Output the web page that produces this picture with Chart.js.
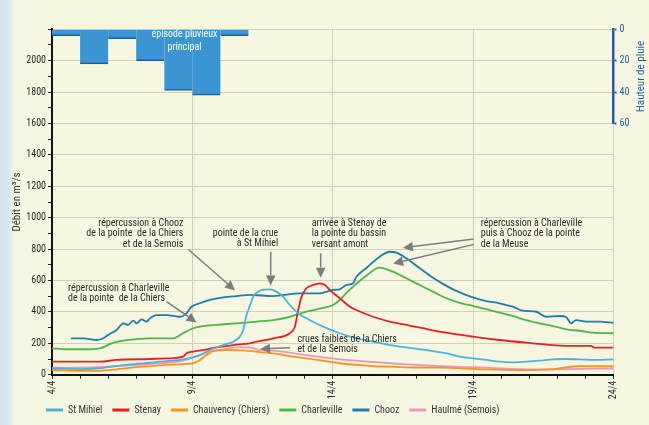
<!DOCTYPE html>
<html><head><meta charset="utf-8">
<script src="https://cdn.jsdelivr.net/npm/chart.js@4.4.1/dist/chart.umd.min.js"></script>
<style>
html,body{margin:0;padding:0;}
body{width:649px;height:425px;overflow:hidden;background:#f6f6e1;}
#wrap{position:relative;width:649px;height:425px;background:linear-gradient(to right,#cfe3ef 0px,#d9e9f1 9px,#e9f1ea 13px,#f6f6e1 16px);}
canvas{display:block;}
</style></head><body><div id="wrap"><canvas id="c" width="649" height="425"></canvas></div>
<script>
// ---------- data (days of April, flow in m3/s, rain in mm) ----------
const xTickDays = [4, 9, 14, 19, 24];

const stMihielDays = [4,5.11,5.71,6.3,6.9,7.49,8.08,8.67,9.27,9.62,10.1,10.45,10.69,10.81,10.93,11.05,11.17,11.4,11.76,11.99,12.23,12.47,12.77,13.06,13.65,14.25,14.84,15.44,16.03,16.62,17.21,17.57,18.05,18.52,18.99,19.47,19.94,20.41,20.89,21.36,21.84,22.32,22.79,23.27,24];
const stMihielFlow = [41,36,41,55,68,76,87,98,125,157,189,210,242,285,380,440,497,535,544,529,497,444,391,359,306,264,232,210,189,174,160,150,136,115,104,94,83,79,83,89,98,100,98,94,98];

const stenayDays = [4,5.71,6.3,7.49,8.08,8.67,8.79,9.03,9.38,9.86,10.45,11.05,11.28,11.88,12.47,12.65,12.77,12.89,13.06,13.3,13.54,13.72,13.9,14.25,14.61,14.84,15.44,16.03,16.62,17.21,17.81,18.99,19.94,20.89,21.84,22.79,23.2,23.33,24];
const stenayFlow = [83,83,94,100,104,115,136,147,157,174,189,200,210,232,264,306,412,497,550,571,582,571,539,487,433,412,369,338,317,296,274,242,221,204,189,183,183,172,172];

const chauvencyDays = [4,5.11,5.71,6.3,6.9,7.49,8.08,8.67,9.03,9.27,9.5,9.74,10.1,10.57,11.28,11.88,12.47,13.06,13.65,14.25,14.84,15.44,16.03,16.62,17.81,19.47,20.65,21.84,22.32,22.79,24];
const chauvencyFlow = [30,24,25,34,47,55,62,68,73,94,125,151,157,157,147,136,119,104,89,73,62,55,51,47,45,34,30,34,47,55,55];

const charlevilleDays = [4,4.52,5.11,5.71,6.12,6.54,7.01,7.49,8.32,8.67,9.03,9.38,9.86,10.57,11.28,11.88,12.47,13.06,13.65,14.01,14.25,14.48,14.72,15.19,15.67,16.14,16.62,17.1,17.57,18.05,18.52,18.99,19.47,19.94,20.41,20.89,21.36,21.84,22.32,22.79,23.27,24];
const charlevilleFlow = [168,162,162,168,200,217,227,232,232,264,296,310,318,327,338,348,369,401,425,444,476,520,560,630,682,656,614,571,529,487,458,438,417,395,374,348,327,310,289,280,268,264];

const choozDays = [4.67,5.11,5.59,5.83,6.0,6.3,6.54,6.72,6.9,7.01,7.19,7.37,7.49,7.72,8.08,8.56,8.79,8.97,9.27,9.62,10.1,10.57,11.05,11.88,12.83,13.54,14.01,14.25,14.48,14.72,14.84,15.19,15.67,16.03,16.27,16.62,17.1,17.57,18.05,18.52,18.99,19.47,19.94,20.41,20.77,21.25,21.6,22.08,22.32,22.49,22.67,23.03,23.5,24];
const choozFlow = [232,232,221,232,253,285,327,317,344,327,353,338,359,380,380,369,391,433,455,476,493,501,508,501,518,518,540,544,571,582,624,678,752,783,777,741,678,618,566,524,493,469,455,433,408,401,369,374,366,327,348,338,338,331];

const haulmeDays = [4,5,6,7,8,8.67,9.27,9.62,10.1,10.57,11.05,11.28,11.88,12.47,13.06,13.65,14.25,14.84,15.44,16.03,16.62,17.81,18.28,19.47,20.65,21.84,24];
const haulmeFlow = [45,45,52,62,75,89,125,147,162,174,174,162,153,140,125,111,98,89,81,73,66,55,51,45,36,34,41];

const rainDays = [4.5,5.5,6.5,7.5,8.5,9.5,10.5];
const rainMm = [4,22,6,20,39,42,4];

// ---------- text annotations (anchored in data units) ----------
const notes = [
  {lines:['répercussion à Chooz','de la pointe  de la Chiers','et de la Semois'], day:8.68, flow:964, align:'right'},
  {lines:['pointe de la crue','à St Mihiel'], day:12.06, flow:900, align:'right'},
  {lines:['arrivée à Stenay de','la pointe du bassin','versant amont'], day:13.25, flow:964, align:'left'},
  {lines:['répercussion à Charleville','puis à Chooz de la pointe','de la Meuse'], day:19.27, flow:964, align:'left'},
  {lines:['répercussion à Charleville','de la pointe  de la Chiers'], day:4.57, flow:552, align:'left'},
  {lines:['crues faibles de la Chiers','et de la Semois'], day:12.74, flow:225, align:'left'}
];
const arrows = [
  {from:[8.85,799], to:[10.52,537]},
  {from:[11.79,783], to:[11.79,568]},
  {from:[13.57,773], to:[13.57,618]},
  {from:[19.03,864], to:[16.5,808]},
  {from:[19.03,830], to:[16.15,708]},
  {from:[8.08,465], to:[9.15,333]},
  {from:[12.48,172], to:[11.41,164]}
];
const rainLabel = {lines:['épisode pluvieux','principal'], day:8.72, mm:[3.6,11.3]};

// ---------- styling ----------
const FONT = "'Roboto Condensed','Liberation Sans',sans-serif";
const TXT = '#2b2b2b';
const GRID = '#cfcfba';
const RAIN_BLUE = '#2360a8';
const ARROW = '#7d7d7d';

function pts(days, vals){ return days.map((d,i)=>({x:d, y:vals[i]})); }
function lineDs(label, days, vals, color){
  return {type:'line', label, data:pts(days, vals), borderColor:color, backgroundColor:color,
    borderWidth:1.8, pointRadius:0, pointHoverRadius:0, cubicInterpolationMode:'monotone',
    fill:false, xAxisID:'x', yAxisID:'y'};
}

const notesPlugin = {
  id:'notes',
  afterLayout(chart){
    const lg = chart.legend; if(!lg) return;
    const p = lg.options.labels.padding;
    const dx = 46 - p - lg.left, dy = (410 - p - 5) - lg.top;
    lg.left += dx; lg.right += dx; lg.top += dy; lg.bottom += dy;
  },
  afterDatasetsDraw(chart){
    const {ctx} = chart; const xs = chart.scales.x, ys = chart.scales.y, rs = chart.scales.y2;
    ctx.save();
    ctx.strokeStyle = ARROW; ctx.fillStyle = ARROW; ctx.lineWidth = 1.5;
    arrows.forEach(a => {
      const x1 = xs.getPixelForValue(a.from[0]), y1 = ys.getPixelForValue(a.from[1]);
      const x2 = xs.getPixelForValue(a.to[0]), y2 = ys.getPixelForValue(a.to[1]);
      const ang = Math.atan2(y2-y1, x2-x1), L = 10, W = 4.8;
      const bx = x2 - L*Math.cos(ang), by = y2 - L*Math.sin(ang);
      ctx.beginPath(); ctx.moveTo(x1,y1); ctx.lineTo(bx,by); ctx.stroke();
      ctx.beginPath(); ctx.moveTo(x2,y2);
      ctx.lineTo(bx - W*Math.sin(ang), by + W*Math.cos(ang));
      ctx.lineTo(bx + W*Math.sin(ang), by - W*Math.cos(ang));
      ctx.closePath(); ctx.fill();
    });
    ctx.font = '10px ' + FONT; ctx.fillStyle = TXT; ctx.textBaseline = 'middle';
    notes.forEach(n => {
      ctx.textAlign = n.align;
      const px = xs.getPixelForValue(n.day), py = ys.getPixelForValue(n.flow);
      n.lines.forEach((t,i) => ctx.fillText(t, px, py + i*10.5));
    });
    ctx.fillStyle = '#ffffff'; ctx.textAlign = 'center';
    rainLabel.lines.forEach((t,i) => ctx.fillText(t, xs.getPixelForValue(rainLabel.day), rs.getPixelForValue(rainLabel.mm[i])));
    ctx.restore();
  },
  afterDraw(chart){
    const s = chart.scales.y2, ctx = chart.ctx;
    ctx.save();
    ctx.translate(s.right - 8, (s.top + s.bottom)/2);
    ctx.rotate(-Math.PI/2);
    ctx.textAlign = 'center'; ctx.textBaseline = 'middle';
    ctx.fillStyle = RAIN_BLUE; ctx.font = '11px ' + FONT;
    ctx.fillText('Hauteur de pluie', 0, 0);
    ctx.restore();
  }
};

new Chart(document.getElementById('c'), {
  data: {
    datasets: [
      lineDs('St Mihiel', stMihielDays, stMihielFlow, '#4cb3dc'),
      lineDs('Stenay', stenayDays, stenayFlow, '#e3231f'),
      lineDs('Chauvency (Chiers)', chauvencyDays, chauvencyFlow, '#f7931e'),
      lineDs('Charleville', charlevilleDays, charlevilleFlow, '#4fb648'),
      lineDs('Chooz', choozDays, choozFlow, '#1c7eac'),
      lineDs('Haulmé (Semois)', haulmeDays, haulmeFlow, '#e898ba'),
      {type:'bar', label:'pluie', data:pts(rainDays, rainMm), xAxisID:'x', yAxisID:'y2',
        backgroundColor:'#3a95d2', borderColor:'#1d5ea3',
        borderWidth:{top:0,right:0,bottom:1.5,left:0}, borderSkipped:false,
        barPercentage:1, categoryPercentage:1, grouped:false}
    ]
  },
  options: {
    responsive:false, devicePixelRatio:1, animation:false,
    layout:{padding:{top:29.3, right:0, bottom:-12, left:0}},
    plugins:{
      tooltip:{enabled:false},
      legend:{
        position:'bottom', align:'start',
        labels:{
          usePointStyle:true, pointStyle:'line', pointStyleWidth:17, padding:10,
          color:'#333', font:{family:FONT, size:10},
          filter: it => it.text !== 'pluie',
          generateLabels: ch => Chart.defaults.plugins.legend.labels.generateLabels(ch).map(l => Object.assign(l, {lineWidth:3}))
        }
      }
    },
    scales:{
      x:{type:'linear', position:'bottom', min:4, max:24, offset:false,
        ticks:{stepSize:1, autoSkip:false, maxRotation:90, minRotation:90, padding:2, color:TXT,
          font:{family:FONT, size:10},
          callback: v => xTickDays.includes(Math.round(v)) ? Math.round(v) + '/4' : ''},
        grid:{offset:false, color: c => (c.tick && xTickDays.includes(Math.round(c.tick.value)) && c.tick.value > 4) ? GRID : 'rgba(0,0,0,0)',
          tickColor:'#222', tickLength:4, lineWidth:1},
        border:{color:'#111', width:2},
        afterFit: s => { s.height = 425 + 12 - 374.7 - (s.chart.legend ? s.chart.legend.height : 0); }
      },
      y:{type:'linear', position:'left', min:0, max:2200,
        ticks:{stepSize:100, autoSkip:false, padding:2, color:TXT, font:{family:FONT, size:10},
          callback: v => (v % 200 === 0 && v < 2200) ? String(v) : ''},
        grid:{color: c => (c.tick && c.tick.value % 200 === 0 && c.tick.value > 0) ? GRID : 'rgba(0,0,0,0)',
          tickColor:'#222', tickLength:4},
        border:{color:'#111', width:2},
        title:{display:true, text:'Débit en m³/s', color:'#333', font:{family:FONT, size:11}, padding:{top:11, bottom:0}},
        afterFit: s => { s.width = 52; }
      },
      y2:{type:'linear', position:'right', stack:'rain', stackWeight:60, weight:1, min:0, max:60, reverse:true,
        ticks:{stepSize:20, color:RAIN_BLUE, font:{family:FONT, size:10}, padding:3},
        grid:{drawOnChartArea:false, tickColor:RAIN_BLUE, tickLength:3, tickWidth:2},
        border:{color:RAIN_BLUE, width:2.5},
        afterFit: s => { s.width = 649 - 613.5; }
      },
      y3:{type:'linear', position:'right', stack:'rain', stackWeight:160, weight:2, display:false, min:0, max:160}
    }
  },
  plugins:[notesPlugin]
});
</script></body></html>
